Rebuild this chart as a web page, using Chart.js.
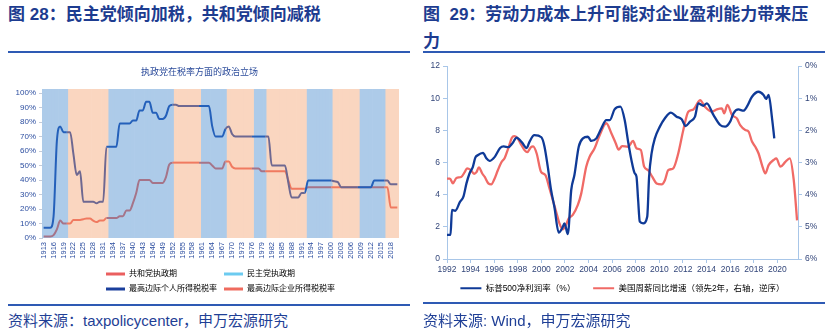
<!DOCTYPE html>
<html><head><meta charset="utf-8">
<script src="https://cdn.jsdelivr.net/npm/chart.js@4.4.1/dist/chart.umd.min.js"></script>
<style>
html,body{margin:0;padding:0;background:#fff;}
body{width:830px;height:336px;position:relative;overflow:hidden;font-family:"Liberation Sans","Noto Sans CJK SC",sans-serif;}
.title{position:absolute;font-size:17px;font-weight:700;color:#1d3c90;line-height:27px;white-space:nowrap;}
.rule{position:absolute;height:2px;background:#2e5ab4;}
.src{position:absolute;font-size:15px;color:#1f3f96;line-height:20px;white-space:nowrap;}
#c1{position:absolute;left:0;top:58px;}
#c2{position:absolute;left:415px;top:56px;}
</style></head>
<body>
<div class="title" style="left:8px;top:1px;">图 28：民主党倾向加税，共和党倾向减税</div>
<div class="title" style="left:423px;top:1px;">图&nbsp;&nbsp;29：劳动力成本上升可能对企业盈利能力带来压<br>力</div>
<div class="rule" style="left:8px;top:51px;width:402px;"></div>
<div class="rule" style="left:423px;top:51px;width:402px;"></div>
<canvas id="c1" width="415" height="246"></canvas>
<canvas id="c2" width="415" height="250"></canvas>
<div class="rule" style="left:8px;top:304px;width:402px;"></div>
<div class="rule" style="left:423px;top:302px;width:402px;"></div>
<div class="src" style="left:8px;top:311px;">资料来源：taxpolicycenter，申万宏源研究</div>
<div class="src" style="left:423px;top:311px;">资料来源: Wind，申万宏源研究</div>
<script>
// ---------- Figure 28 data ----------
const years = [
1913,1914,1915,1916,1917,1918,1919,1920,1921,1922,
1923,1924,1925,1926,1927,1928,1929,1930,1931,1932,
1933,1934,1935,1936,1937,1938,1939,1940,1941,1942,
1943,1944,1945,1946,1947,1948,1949,1950,1951,1952,
1953,1954,1955,1956,1957,1958,1959,1960,1961,1962,
1963,1964,1965,1966,1967,1968,1969,1970,1971,1972,
1973,1974,1975,1976,1977,1978,1979,1980,1981,1982,
1983,1984,1985,1986,1987,1988,1989,1990,1991,1992,
1993,1994,1995,1996,1997,1998,1999,2000,2001,2002,
2003,2004,2005,2006,2007,2008,2009,2010,2011,2012,
2013,2014,2015,2016,2017,2018,2019,2020];

const personalRate = [
7,7,7,15,67,77,73,73,73,58,
43.5,46,25,25,25,25,24,25,25,63,
63,63,63,79,79,79,79,81.1,81,88,
88,94,94,86.45,86.45,82.13,82.13,84.36,91,92,
92,91,91,91,91,91,91,91,91,91,
91,77,70,70,70,75.25,77,71.75,70,70,
70,70,70,70,70,70,70,70,70,50,
50,50,50,50,38.5,28,28,28,31,31,
39.6,39.6,39.6,39.6,39.6,39.6,39.6,39.6,39.1,38.6,
35,35,35,35,35,35,35,35,35,35,
39.6,39.6,39.6,39.6,39.6,37,37,37];

const corporateRate = [
1,1,1,2,6,12,10,10,10,12.5,
12.5,12.5,13,13.5,13.5,12,11,12,12,13.75,
13.75,13.75,13.75,15,15,19,19,24,31,40,
40,40,40,38,38,38,38,42,50.75,52,
52,52,52,52,52,52,52,52,52,52,
52,50,48,48,48,52.8,52.8,49.2,48,48,
48,48,48,48,48,48,46,46,46,46,
46,46,46,46,40,34,34,34,34,34,
35,35,35,35,35,35,35,35,35,35,
35,35,35,35,35,35,35,35,35,35,
35,35,35,35,35,21,21,21];

const partyTerms = [
 {party:'D', from:1913, to:1920},
 {party:'R', from:1921, to:1932},
 {party:'D', from:1933, to:1952},
 {party:'R', from:1953, to:1960},
 {party:'D', from:1961, to:1968},
 {party:'R', from:1969, to:1976},
 {party:'D', from:1977, to:1980},
 {party:'R', from:1981, to:1992},
 {party:'D', from:1993, to:2000},
 {party:'R', from:2001, to:2008},
 {party:'D', from:2009, to:2016},
 {party:'R', from:2017, to:2020}];

const leftNames = ['共和党执政期','民主党执政期','最高边际个人所得税税率','最高边际企业所得税税率'];
const leftTicks = [0,10,20,30,40,50,60,70,80,90,100];

// ---------- Figure 29 data ----------
const sp500Years = [1992.0,1992.3,1992.42,1992.7,1993.1,1993.4,1993.65,1993.9,1994.2,1994.4,1994.6,1995.05,1995.35,1995.6,1996.05,1996.5,1996.8,1997.2,1997.55,1997.9,1998.35,1998.75,1999.0,1999.4,2000.0,2000.26,2000.54,2000.82,2001.1,2001.47,2001.76,2001.96,2002.24,2002.53,2002.8,2003.17,2003.52,2003.94,2004.23,2004.66,2005.08,2005.5,2005.8,2006.2,2006.7,2007.06,2007.35,2007.63,2007.91,2008.06,2008.2,2008.34,2008.62,2008.97,2009.13,2009.34,2009.62,2010.04,2010.47,2010.98,2011.46,2011.89,2012.23,2012.6,2013.02,2013.3,2013.73,2014.02,2014.58,2015.15,2015.57,2016.0,2016.28,2016.7,2017.13,2017.42,2017.85,2018.41,2018.83,2019.04,2019.26,2019.55,2019.74];
const sp500Margin = [1.5,1.5,3.05,3.0,3.55,3.9,4.7,5.3,5.75,6.3,6.45,6.6,6.25,6.1,6.35,6.9,7.0,6.95,7.2,7.55,7.25,6.9,7.3,7.7,7.57,7.0,5.74,4.29,3.25,1.64,1.91,2.22,1.55,4.29,5.22,6.99,7.5,7.6,7.34,7.5,8.12,8.64,8.64,9.3,9.47,8.64,7.3,6.16,5.33,5.12,3.67,2.32,2.22,2.63,5.12,6.57,7.5,8.23,8.75,9.1,8.85,8.69,8.27,8.54,8.85,9.68,9.53,9.68,8.96,8.33,8.23,8.54,9.06,9.3,9.22,9.47,10.09,10.4,10.2,9.95,10.2,8.75,7.5];

const wageYears = [1992.0,1992.25,1992.5,1992.8,1993.2,1993.5,1993.7,1994.0,1994.3,1994.5,1994.7,1995.0,1995.2,1995.5,1995.75,1996.0,1996.3,1996.6,1996.9,1997.2,1997.5,1997.7,1997.95,1998.3,1998.6,1998.8,1999.1,1999.3,1999.6,1999.97,2000.34,2000.68,2000.97,2001.25,2001.53,2001.81,2002.04,2002.32,2002.66,2003.09,2003.38,2003.8,2004.09,2004.51,2004.94,2005.5,2005.93,2006.3,2006.55,2006.84,2007.35,2007.77,2008.06,2008.43,2008.71,2009.05,2009.39,2009.76,2010.19,2010.47,2010.75,2011.18,2011.6,2012.03,2012.45,2012.88,2013.3,2013.45,2013.87,2014.44,2014.87,2015.3,2015.49,2015.77,2016.15,2016.57,2016.85,2017.28,2017.56,2017.85,2018.13,2018.41,2018.7,2018.98,2019.26,2019.69,2019.91,2020.26,2020.68,2021.05,2021.39,2021.67];
const wageGrowth = [3.5,3.5,3.65,3.48,3.45,3.3,3.18,3.23,3.35,3.3,3.15,3.35,3.45,3.65,3.68,3.53,3.25,3.0,2.85,2.55,2.23,2.18,2.23,2.45,2.63,2.68,2.53,2.5,2.72,3.29,3.39,3.8,4.17,4.53,4.89,5.08,4.98,4.74,4.63,4.32,3.96,3.13,2.82,2.56,2.15,1.78,2.09,2.4,2.6,2.49,2.51,2.33,2.56,2.61,3.13,3.24,3.44,3.65,3.68,3.55,3.24,3.18,2.72,1.99,1.42,1.35,1.11,1.06,1.27,1.42,1.35,1.32,1.47,1.21,1.52,1.63,1.84,1.99,2.04,2.35,2.51,2.72,3.08,3.34,3.08,2.92,2.87,3.13,2.98,2.87,3.55,4.8];

const rightNames = ['标普500净利润率（%）','美国周薪同比增速（领先2年，右轴，逆序）'];
const xTicksRight = [1992,1994,1996,1998,2000,2002,2004,2006,2008,2010,2012,2014,2016,2018,2020];

// ---------- rendering ----------
Chart.defaults.font.family = '"Liberation Sans","Noto Sans CJK SC",sans-serif';
Chart.defaults.animation = false;

const partyOf = y => partyTerms.find(t => y >= t.from && y <= t.to).party;
const repBand = years.map(y => partyOf(y) === 'R' ? 1 : null);
const demBand = years.map(y => partyOf(y) === 'D' ? 1 : null);
const padCJK = (s, n) => s + '\u3000'.repeat(Math.max(0, n - s.length));

// line colours as they appear over each band
const blueOnD = '#2460ba', blueOnR = '#6e6891';
const redOnD = '#a57489', redOnR = '#f07a60';
const segColor = (onD, onR) => ctx => partyOf(years[ctx.p1DataIndex]) === 'D' ? onD : onR;
const leftSwatch = ['#ea5f5f', '#6ccbf0', '#1a3f9c', '#ef6b5e'];
const leftText = '#2c4ea0';

new Chart(document.getElementById('c1'), {
  type: 'bar',
  data: {
    labels: years.map(String),
    datasets: [
      {type:'bar', label:leftNames[0], data:repBand, yAxisID:'yb', backgroundColor:'#fad6c0', borderWidth:0, barPercentage:1, categoryPercentage:1, grouped:false, order:1},
      {type:'bar', label:leftNames[1], data:demBand, yAxisID:'yb', backgroundColor:'#adcbe9', borderWidth:0, barPercentage:1, categoryPercentage:1, grouped:false, order:1},
      {type:'line', label:leftNames[2], data:personalRate, yAxisID:'y', borderColor:blueOnD, segment:{borderColor:segColor(blueOnD, blueOnR)}, borderWidth:2, pointRadius:0, cubicInterpolationMode:'monotone', order:0},
      {type:'line', label:leftNames[3], data:corporateRate, yAxisID:'y', borderColor:redOnR, segment:{borderColor:segColor(redOnD, redOnR)}, borderWidth:2, pointRadius:0, cubicInterpolationMode:'monotone', order:0}
    ]
  },
  options: {
    responsive:false, events:[],
    layout:{padding:{left:0, right:16, top:0, bottom:1}},
    plugins:{
      tooltip:{enabled:false},
      title:{display:true, text:'执政党在税率方面的政治立场', color:'#2a4a9a', font:{size:9, weight:'normal'}, padding:{top:9.6, bottom:10.6}},
      legend:{position:'bottom', fullSize:false,
        labels:{boxWidth:19, boxHeight:3, padding:7, color:leftText, font:{size:8},
          generateLabels: () => leftNames.map((n,i) => ({text:padCJK(n, 11), fillStyle:leftSwatch[i], strokeStyle:leftSwatch[i], lineWidth:0, hidden:false, datasetIndex:i}))}}
    },
    scales:{
      x:{type:'category', offset:true, grid:{display:false, drawTicks:false}, border:{display:false},
         ticks:{autoSkip:false, minRotation:90, maxRotation:90, padding:4, font:{size:7.5}, color:leftText,
                callback:(v,i) => i % 3 === 0 ? String(years[i]) : ''},
         afterFit: s => { s.height = 25; }},
      y:{min:0, max:102.8, position:'left',
         grid:{drawOnChartArea:false, drawTicks:true, tickLength:3, color:'#c5cbd8'}, border:{display:true, color:'#c5cbd8'},
         ticks:{stepSize:10, padding:3, font:{size:8}, color:leftText, callback:v => v + '%'},
         afterBuildTicks: s => { s.ticks = leftTicks.map(v => ({value:v})); },
         afterFit: s => { s.width = 42; }},
      yb:{display:false, min:0, max:1}
    }
  }
});

const rBlue = '#0f3a97', rRed = '#f06a66', rAxis = '#a8c6e8', rText = '#33467a';
new Chart(document.getElementById('c2'), {
  type:'line',
  data:{datasets:[
    {label:rightNames[0], data:sp500Years.map((x,i) => ({x, y:sp500Margin[i]})), yAxisID:'y', borderColor:rBlue, borderWidth:2.3, pointRadius:0, cubicInterpolationMode:'monotone'},
    {label:rightNames[1], data:wageYears.map((x,i) => ({x, y:wageGrowth[i]})), yAxisID:'y1', borderColor:rRed, borderWidth:2.3, pointRadius:0, cubicInterpolationMode:'monotone'}
  ]},
  options:{
    responsive:false, events:[],
    layout:{padding:{top:10, bottom:3.5, left:0, right:0}},
    plugins:{
      tooltip:{enabled:false},
      legend:{position:'bottom', fullSize:false,
        labels:{boxWidth:21, boxHeight:2, padding:5, color:rText, font:{size:8.5},
          generateLabels: chart => chart.data.datasets.map((d,i) => ({text: i === 0 ? d.label + '\u3000\u3000' : d.label, fillStyle:d.borderColor, strokeStyle:d.borderColor, lineWidth:0, hidden:false, datasetIndex:i}))}}
    },
    scales:{
      x:{type:'linear', min:1992, max:2021.75,
         grid:{drawOnChartArea:false, tickLength:4, color:rAxis}, border:{color:rAxis},
         ticks:{padding:2, font:{size:8.5}, color:rText, callback:v => String(v)},
         afterBuildTicks: s => { s.ticks = xTicksRight.map(v => ({value:v})); },
         afterFit: s => { s.height = 20; }},
      y:{position:'left', min:0, max:12,
         grid:{drawOnChartArea:false, tickLength:4, color:rAxis}, border:{color:rAxis},
         ticks:{stepSize:2, padding:3, font:{size:8.5}, color:rText},
         afterFit: s => { s.width = 32; }},
      y1:{position:'right', min:0, max:6, reverse:true,
         grid:{drawOnChartArea:false, tickLength:4, color:rAxis}, border:{color:rAxis},
         ticks:{stepSize:1, padding:3, font:{size:8.5}, color:rText, callback:v => v + '%'},
         afterFit: s => { s.width = 32; }}
    }
  }
});
</script>
</body></html>
